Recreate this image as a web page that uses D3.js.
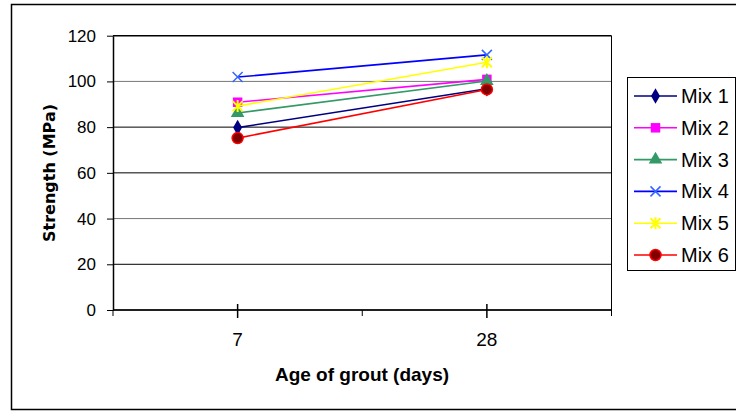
<!DOCTYPE html>
<meta charset="utf-8">
<script src="https://d3js.org/d3.v7.min.js"></script>
<style>
body { margin: 0; background: #fff; }
.tick-label { font-family: "Liberation Sans", Arial, sans-serif; fill: #000; }
</style>
<svg width="736" height="411"></svg>
<script>

// data
var days = ["7", "28"];
var mixNames = ["Mix 1", "Mix 2", "Mix 3", "Mix 4", "Mix 5", "Mix 6"];
var mix1 = [79.8, 96.8];
var mix2 = [90.9, 100.9];
var mix3 = [86.2, 100.2];
var mix4 = [101.9, 111.6];
var mix5 = [89.2, 108.4];
var mix6 = [75.2, 96.5];
var yTicks = [0, 20, 40, 60, 80, 100, 120];

var seriesValues = [mix1, mix2, mix3, mix4, mix5, mix6];
var lineColors = ["#000080", "#ff00ff", "#339966", "#0000ff", "#ffff00", "#ff0000"];
var markerColors = ["#000080", "#ff00ff", "#339966", "#3366ff", "#ffff00", "#800000"];
var markerTypes = ["diamond", "square", "triangle", "cross", "star", "circle"];

var svg = d3.select("svg");

svg.append("rect")
    .attr("width", 736).attr("height", 411)
    .attr("fill", "#fff");

// outer chart border
svg.append("rect")
    .attr("x", 11.5).attr("y", 4.5)
    .attr("width", 740).attr("height", 405)
    .attr("fill", "none")
    .attr("stroke", "#000")
    .attr("stroke-width", 1.5);

var plot = {left: 113, right: 611.5, top: 35.7, bottom: 310};

var y = d3.scaleLinear()
    .domain([0, 120])
    .range([plot.bottom, plot.top]);

var x = d3.scaleBand()
    .domain(days)
    .range([plot.left, plot.right])
    .padding(0);

//gridlines
svg.append("g")
  .selectAll("line")
  .data(yTicks)
  .enter().append("line")
    .attr("x1", plot.left).attr("x2", plot.right)
    .attr("y1", function(d) { return y(d); })
    .attr("y2", function(d) { return y(d); })
    .attr("stroke", function(d) { return (d == 100 || d == 40) ? "#777" : "#000"; })
    .attr("stroke-width", function(d) { return d == 120 ? 1.5 : 1; });

// right edge of plot
svg.append("line")
    .attr("x1", plot.right).attr("x2", plot.right)
    .attr("y1", plot.top).attr("y2", plot.bottom)
    .attr("stroke", "#000");

// y axis
var yAxis = svg.append("g")
    .attr("transform", "translate(" + plot.left + ",0)")
    .call(d3.axisLeft(y).tickValues(yTicks).tickSize(6).tickSizeOuter(0));
yAxis.select(".domain").attr("stroke", "#000").attr("stroke-width", 1.5);
yAxis.selectAll(".tick line").attr("stroke", "#000");
yAxis.selectAll(".tick text")
    .attr("class", "tick-label")
    .attr("x", -17)
    .style("font-size", "17px");

// x axis: short ticks on the category edges, crossing ticks at the centres
var xAxis = svg.append("g")
    .attr("transform", "translate(0," + plot.bottom + ")");
xAxis.append("line")
    .attr("x1", plot.left).attr("x2", plot.right)
    .attr("stroke", "#000").attr("stroke-width", 1.5);
var edges = [plot.left].concat(days.map(function(d) { return x(d) + x.bandwidth(); }));
xAxis.selectAll(".edge")
  .data(edges)
  .enter().append("line")
    .attr("class", "edge")
    .attr("x1", function(d) { return d; }).attr("x2", function(d) { return d; })
    .attr("y1", 0).attr("y2", 6)
    .attr("stroke", "#000");
xAxis.selectAll(".mid")
  .data(days)
  .enter().append("line")
    .attr("class", "mid")
    .attr("x1", function(d) { return x(d) + x.bandwidth() / 2; })
    .attr("x2", function(d) { return x(d) + x.bandwidth() / 2; })
    .attr("y1", -6).attr("y2", 8)
    .attr("stroke", "#000").attr("stroke-width", 1.5);
xAxis.selectAll("text")
  .data(days)
  .enter().append("text")
    .attr("class", "tick-label")
    .attr("x", function(d) { return x(d) + x.bandwidth() / 2; })
    .attr("y", 36)
    .attr("text-anchor", "middle")
    .style("font-size", "19px")
    .text(function(d) { return d; });

// axis titles
svg.append("text")
    .attr("x", 362).attr("y", 381)
    .attr("text-anchor", "middle")
    .style("font-family", "'Liberation Sans', Arial, sans-serif")
    .style("font-weight", "bold")
    .style("font-size", "19px")
    .text("Age of grout (days)");

svg.append("text")
    .attr("transform", "translate(55,173) rotate(-90)")
    .attr("text-anchor", "middle")
    .style("font-family", "'DejaVu Sans', sans-serif")
    .style("font-weight", "bold")
    .style("font-size", "16px")
    .text("Strength (MPa)");

// marker drawing
function drawMarker(g, type, color, cx, cy) {
  if (type == "cross" || type == "star") {
    var s = 5;
    g.append("path")
        .attr("d", "M" + (cx - s) + "," + (cy - s) + "L" + (cx + s) + "," + (cy + s) +
                   "M" + (cx - s) + "," + (cy + s) + "L" + (cx + s) + "," + (cy - s) +
                   (type == "star" ? "M" + cx + "," + (cy - s - 1) + "L" + cx + "," + (cy + s + 1) : ""))
        .attr("stroke", color)
        .attr("stroke-width", type == "star" ? 2 : 1.5)
        .attr("fill", "none");
  } else if (type == "circle") {
    g.append("circle")
        .attr("cx", cx).attr("cy", cy).attr("r", 5.5)
        .attr("fill", color)
        .attr("stroke", "#ff0000").attr("stroke-width", 1.5);
  } else {
    var sym = {diamond: d3.symbolDiamond, square: d3.symbolSquare, triangle: d3.symbolTriangle}[type];
    var size = {diamond: 70, square: 90, triangle: 80}[type];
    g.append("path")
        .attr("transform", "translate(" + cx + "," + cy + ")")
        .attr("d", d3.symbol().type(sym).size(size))
        .attr("fill", color);
  }
}

var line = d3.line()
    .x(function(d, i) { return x(days[i]) + x.bandwidth() / 2; })
    .y(function(d) { return y(d); });

seriesValues.forEach(function(vals, k) {
  var g = svg.append("g").attr("class", "series");
  g.append("path")
      .attr("d", line(vals))
      .attr("fill", "none")
      .attr("stroke", lineColors[k])
      .attr("stroke-width", 1.6);
  vals.forEach(function(v, i) {
    drawMarker(g, markerTypes[k], markerColors[k], x(days[i]) + x.bandwidth() / 2, y(v));
  });
});

// legend
var legend = svg.append("g");
legend.append("rect")
    .attr("x", 627.5).attr("y", 77.5)
    .attr("width", 108).attr("height", 193)
    .attr("fill", "#fff")
    .attr("stroke", "#000");

mixNames.forEach(function(name, k) {
  var ly = 96 + k * 31.8;
  var g = legend.append("g");
  g.append("line")
      .attr("x1", 634).attr("x2", 677)
      .attr("y1", ly).attr("y2", ly)
      .attr("stroke", lineColors[k])
      .attr("stroke-width", 1.6);
  drawMarker(g, markerTypes[k], markerColors[k], 655.5, ly);
  g.append("text")
      .attr("class", "tick-label")
      .attr("x", 681).attr("y", ly)
      .attr("dy", "0.35em")
      .style("font-size", "20px")
      .text(name);
});

</script>
